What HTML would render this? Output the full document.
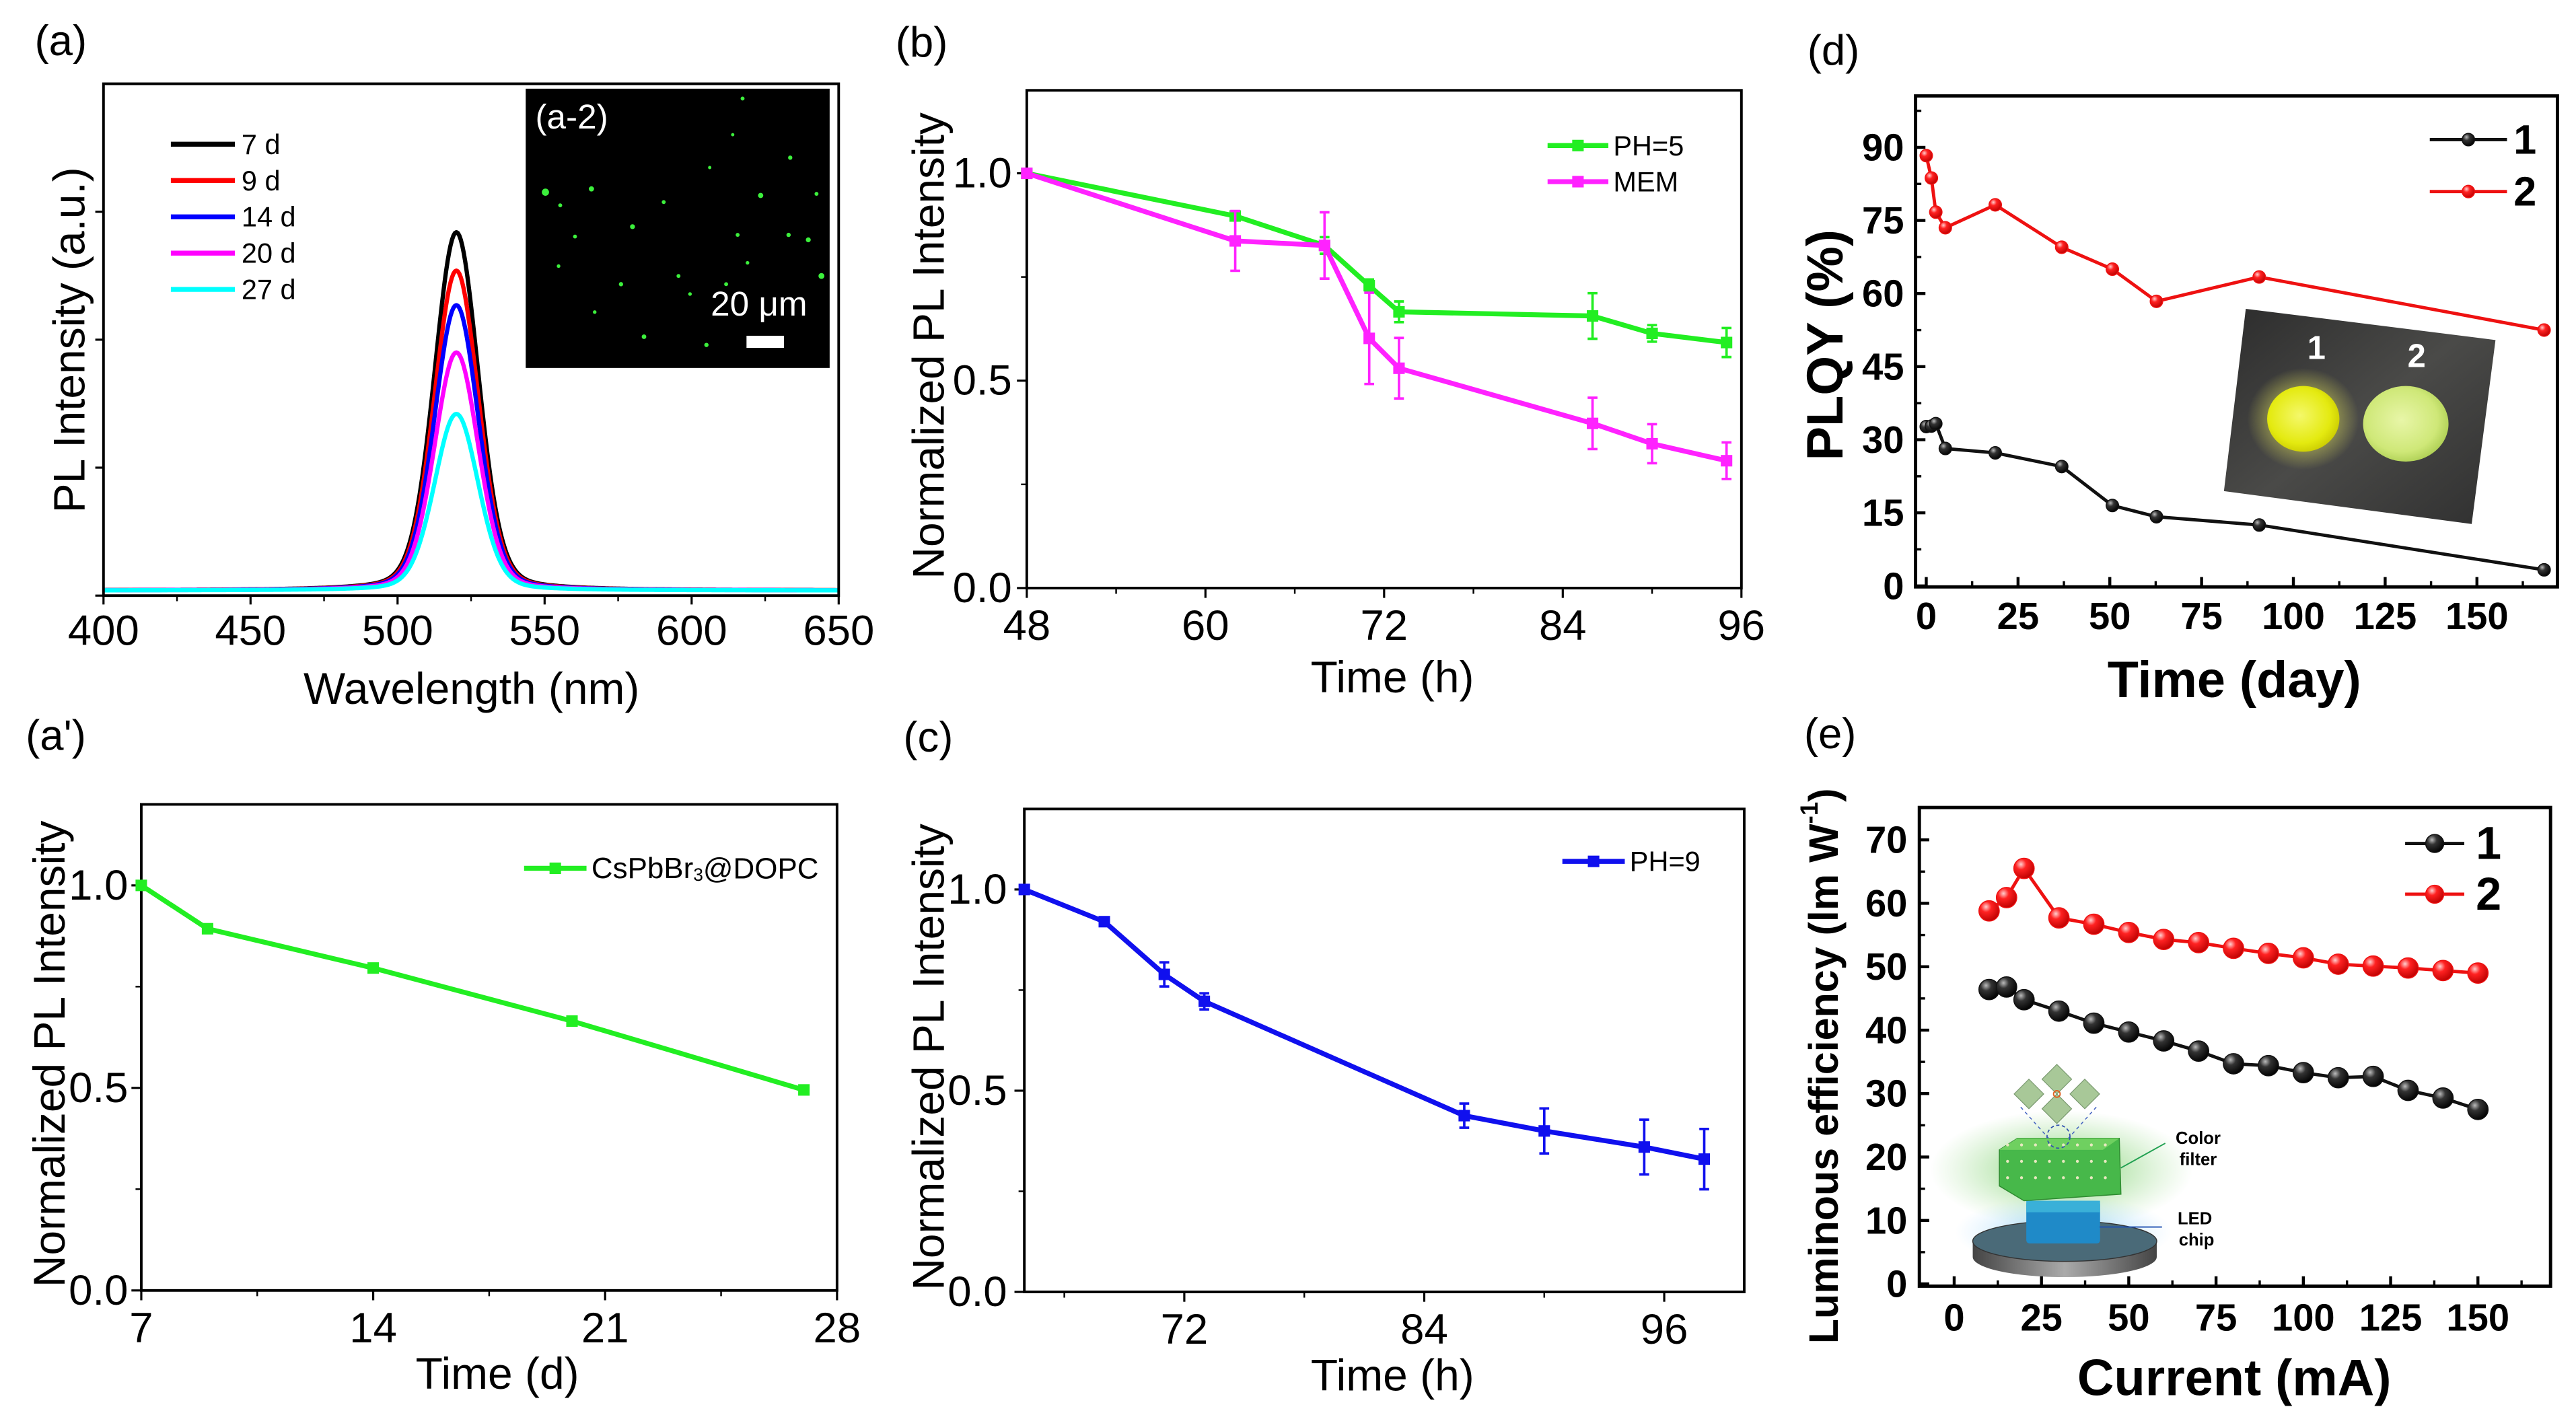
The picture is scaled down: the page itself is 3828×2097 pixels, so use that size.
<!DOCTYPE html>
<html>
<head>
<meta charset="utf-8">
<style>
html,body{margin:0;padding:0;background:#fff;}
svg{display:block;}
text{font-family:"Liberation Sans",sans-serif;}
</style>
</head>
<body>
<svg id="fig" xmlns="http://www.w3.org/2000/svg" width="3828" height="2097" viewBox="0 0 1568 859" preserveAspectRatio="none">
<defs>
<radialGradient id="gBlack" cx="0.35" cy="0.3" r="0.75"><stop offset="0" stop-color="#bbb"/><stop offset="0.35" stop-color="#333"/><stop offset="1" stop-color="#000"/></radialGradient>
<radialGradient id="gRed" cx="0.35" cy="0.3" r="0.75"><stop offset="0" stop-color="#ffd0d0"/><stop offset="0.35" stop-color="#f22"/><stop offset="1" stop-color="#b00"/></radialGradient>
<linearGradient id="gPhoto" x1="0" y1="0" x2="1" y2="1"><stop offset="0" stop-color="#2c2c2c"/><stop offset="0.5" stop-color="#4a4a48"/><stop offset="1" stop-color="#303030"/></linearGradient>
<radialGradient id="gBall1" cx="0.45" cy="0.45" r="0.6"><stop offset="0" stop-color="#f4f86a"/><stop offset="0.7" stop-color="#e4ea10"/><stop offset="1" stop-color="#c8c800"/></radialGradient>
<radialGradient id="gBall2" cx="0.45" cy="0.45" r="0.6"><stop offset="0" stop-color="#e8f6a8"/><stop offset="0.7" stop-color="#cfe878"/><stop offset="1" stop-color="#aacc50"/></radialGradient>
<radialGradient id="gYGlow" cx="0.5" cy="0.5" r="0.5"><stop offset="0.5" stop-color="#ffff60" stop-opacity="0.45"/><stop offset="1" stop-color="#ffff60" stop-opacity="0"/></radialGradient>
<radialGradient id="gGlow" cx="0.5" cy="0.5" r="0.5"><stop offset="0" stop-color="#5fc44a" stop-opacity="0.8"/><stop offset="1" stop-color="#8fd880" stop-opacity="0"/></radialGradient>
<radialGradient id="gBlueGlow" cx="0.5" cy="0.5" r="0.5"><stop offset="0" stop-color="#5ab8f0" stop-opacity="0.7"/><stop offset="1" stop-color="#a0d8ff" stop-opacity="0"/></radialGradient>
<linearGradient id="gDisk" x1="0" y1="0" x2="1" y2="0"><stop offset="0" stop-color="#444"/><stop offset="0.5" stop-color="#aaa"/><stop offset="1" stop-color="#444"/></linearGradient>
</defs>
</svg>
<script>
// ---------- DATA ----------
const specLabels = ['7 d','9 d','14 d','20 d','27 d'];
const specPeaks = [2.8, 2.5, 2.23, 1.86, 1.38];
const specCenter = [520, 520, 520, 520, 520];
const specColors = ['#000000','#ff0000','#0000ff','#ff00ff','#00ffff'];
const aTicksX = [400,450,500,550,600,650];

const bTimes = [48,62,68,71,73,86,90,95];
const bPH5 = [1,0.897,0.826,0.729,0.666,0.656,0.614,0.592];
const bPH5Err = [0,0.01,0.02,0.015,0.025,0.055,0.02,0.035];
const bMEM = [1,0.837,0.826,0.602,0.53,0.397,0.348,0.307];
const bMEMErr = [0,0.072,0.08,0.11,0.073,0.062,0.047,0.044];
const bTicksX = [48,60,72,84,96];
const normTicksY = ['0.0','0.5','1.0'];

const apDays = [7,9,14,20,27];
const apVals = [1,0.893,0.796,0.665,0.495];
const apTicksX = [7,14,21,28];

const cTimes = [64,68,71,73,86,90,95,98];
const cVals = [1,0.92,0.789,0.722,0.438,0.40,0.36,0.33];
const cErr = [0,0.01,0.03,0.02,0.03,0.056,0.068,0.075];
const cTicksX = [72,84,96];

const dDays = [0,1.4,2.6,5.2,18.8,36.9,50.7,62.7,90.7,168.3];
const dS1 = [32.7,32.8,33.3,28.2,27.3,24.5,16.5,14.2,12.5,3.3];
const dS2 = [88.3,83.7,76.7,73.5,78.2,69.5,65,58.4,63.4,52.5];
const dTicksX = [0,25,50,75,100,125,150];
const dTicksY = [0,15,30,45,60,75,90];

const eCurrent = [10,15,20,30,40,50,60,70,80,90,100,110,120,130,140,150];
const eS1 = [46.4,46.8,44.8,43.0,41.1,39.7,38.3,36.7,34.7,34.4,33.3,32.5,32.7,30.5,29.3,27.5];
const eS2 = [58.8,60.9,65.5,57.7,56.7,55.4,54.3,53.8,52.9,52.1,51.4,50.4,50.1,49.8,49.4,49.0];
const eTicksX = [0,25,50,75,100,125,150];
const eTicksY = [0,10,20,30,40,50,60,70];

// ---------- HELPERS ----------
const NS = 'http://www.w3.org/2000/svg';
const svg = document.getElementById('fig');
function mk(tag, attrs, parent) {
  const e = document.createElementNS(NS, tag);
  for (const k in attrs) e.setAttribute(k, attrs[k]);
  (parent || svg).appendChild(e);
  return e;
}
function lin(d0, d1, p0, p1) { return v => p0 + (v - d0) * (p1 - p0) / (d1 - d0); }
function txt(parent, x, y, s, size, opts) {
  opts = opts || {};
  const t = mk('text', {x: x, y: y, 'font-size': size, 'text-anchor': opts.anchor || 'middle',
    'dominant-baseline': 'central', fill: opts.fill || '#000', 'font-weight': opts.bold ? 'bold' : 'normal'}, parent);
  if (opts.rot) t.setAttribute('transform', 'rotate(-90 ' + x + ' ' + y + ')');
  t.textContent = s;
  return t;
}
function frame(g, x0, y0, x1, y1, w) {
  const r = mk('rect', {x: x0, y: y0, width: x1 - x0, height: y1 - y0, fill: 'none', stroke: '#000', 'stroke-width': w}, g);
  
  
}
function tickLine(g, x1, y1, x2, y2, w) {
  const l = mk('line', {x1: x1, y1: y1, x2: x2, y2: y2, stroke: '#000', 'stroke-width': w}, g);
  
  
}
function polyline(g, xs, ys, sx, sy, color, w) {
  const pts = xs.map((v, i) => sx(v).toFixed(2) + ',' + sy(ys[i]).toFixed(2)).join(' ');
  return mk('polyline', {points: pts, fill: 'none', stroke: color, 'stroke-width': w, 'stroke-linejoin': 'round'}, g);
}
function group(name) {
  const g = mk('g', {});
  
  
  return g;
}

// ---------- PANEL A ----------
(function () {
  const g = group('panel-a');
  const sx = lin(400, 650, 63, 510.5), sy = lin(0, 4, 362.6, 51);
  const lab = txt(g, 37, 25, '(a)', 26);
  
  
  for (let i = 0; i < specPeaks.length; i++) {
    const xs = [], ys = [];
    for (let w = 400; w <= 650; w += 0.5) {
      const d = w - specCenter[i];
      const v = specPeaks[i] * (0.8 * Math.exp(-d * d / (2 * 7.5 * 7.5)) + 0.2 / (1 + (d / 9) * (d / 9))) + 0.04;
      xs.push(w); ys.push(v);
    }
    const p = polyline(g, xs, ys, sx, sy, specColors[i], 2.6);
    
    
    const ly = 87.8 + i * 22.1;
    const ll = mk('line', {x1: 104, y1: ly, x2: 143, y2: ly, stroke: specColors[i], 'stroke-width': 3}, g);
    
    
    const lt = txt(g, 147, ly, specLabels[i], 17, {anchor: 'start'});
    
    
  }
  frame(g, 63, 51, 510.5, 362.6, 1.6);
  aTicksX.forEach(v => {
    tickLine(g, sx(v), 362.6, sx(v), 368, 1.3);
    const t = txt(g, sx(v), 384, String(v), 26);
    
    
  });
  for (let v = 425; v < 650; v += 50) tickLine(g, sx(v), 362.6, sx(v), 366, 1);
  for (let v = 0; v <= 3; v++) tickLine(g, 63, sy(v), 58, sy(v), 1.3);
  const xt = txt(g, 287, 419, 'Wavelength (nm)', 27);
  
  
  const yt = txt(g, 42, 207, 'PL Intensity (a.u.)', 27, {rot: true});
  
  
  // inset image
  const ins = mk('rect', {x: 320, y: 54, width: 185, height: 170, fill: '#000'}, g);
  
  
  const dots = [[332,117,2.2],[341,125,1.2],[350,144,1.2],[360,115,1.6],[404,123,1.2],[385,138,1.5],[378,173,1.3],[392,205,1.4],[413,168,1.2],[420,179,1.1],[430,210,1.3],[442,173,1.2],[449,143,1.2],[455,160,1.1],[463,119,1.6],[481,96,1.3],[492,146,1.5],[497,118,1.2],[500,168,1.8],[446,82,1],[452,60,1.2],[480,143,1.3],[362,190,1.1],[340,162,1.1],[432,102,1]];
  dots.forEach(d => {
    const c = mk('circle', {cx: d[0], cy: d[1], r: d[2], fill: '#3cf03c'}, g);
    
    
  });
  const il = txt(g, 348, 71, '(a-2)', 21, {fill: '#fff'});
  
  
  const sb = txt(g, 462, 185, '20 μm', 21, {fill: '#fff'});
  
  
  const sbr = mk('rect', {x: 454.4, y: 204.4, width: 22.8, height: 7.4, fill: '#fff'}, g);
  
  
})();

// generic normalized panel
function normPanel(name, label, lx, ly, box, xr, xticks, xminor, title, titleY, ytitleX, tickRightX) {
  const g = group(name);
  const sx = lin(xr[0], xr[1], box[0], box[2]), sy = lin(0, 1.2, box[3], box[1]);
  const l = txt(g, lx, ly, label, 26);
  
  
  frame(g, box[0], box[1], box[2], box[3], 1.6);
  xticks.forEach(v => {
    tickLine(g, sx(v), box[3], sx(v), box[3] + 6, 1.3);
    const t = txt(g, sx(v), box[3] + 23, String(v), 26);
    
    
  });
  xminor.forEach(v => tickLine(g, sx(v), box[3], sx(v), box[3] + 3.5, 1));
  normTicksY.forEach(s => {
    const v = parseFloat(s);
    tickLine(g, box[0], sy(v), box[0] - 6, sy(v), 1.3);
    const t = txt(g, tickRightX, sy(v), s, 26, {anchor: 'end'});
    
    
  });
  [0.25, 0.75].forEach(v => tickLine(g, box[0], sy(v), box[0] - 3.5, sy(v), 1));
  const xt = txt(g, (box[0] + box[2]) / 2 + 5, titleY, title, 27);
  
  
  const yt = txt(g, ytitleX, (box[1] + box[3]) / 2 + 4, 'Normalized PL Intensity', 27, {rot: true});
  
  
  return {g: g, sx: sx, sy: sy};
}
function errSeries(P, xs, ys, errs, color, nm) {
  const p = polyline(P.g, xs, ys, P.sx, P.sy, color, 3);
  
  
  xs.forEach((x, i) => {
    if (errs && errs[i] > 0) {
      const X = P.sx(x), y1 = P.sy(ys[i] + errs[i]), y2 = P.sy(ys[i] - errs[i]);
      const e = mk('path', {d: 'M' + X + ',' + y1 + 'V' + y2 + 'M' + (X - 3) + ',' + y1 + 'H' + (X + 3) + 'M' + (X - 3) + ',' + y2 + 'H' + (X + 3), stroke: color, 'stroke-width': 1.5, fill: 'none'}, P.g);
      
      
    }
    const m = mk('rect', {x: P.sx(x) - 3.5, y: P.sy(ys[i]) - 3.5, width: 7, height: 7, fill: color}, P.g);
    
    
  });
}
function normLegend(P, x1, x2, y, color, label, size) {
  const l = mk('line', {x1: x1, y1: y, x2: x2, y2: y, stroke: color, 'stroke-width': 3}, P.g);
  
  
  const m = mk('rect', {x: (x1 + x2) / 2 - 3.5, y: y - 3.5, width: 7, height: 7, fill: color}, P.g);
  
  
  const t = txt(P.g, x2 + 3, y, '', size, {anchor: 'start'});
  
  
  if (label === 'CsPbBr3@DOPC') {
    t.textContent = 'CsPbBr';
    const s = mk('tspan', {'font-size': size * 0.6, dy: 4}, t); s.textContent = '3';
    const r = mk('tspan', {dy: -4}, t); r.textContent = '@DOPC';
  } else t.textContent = label;
}

// ---------- PANEL B ----------
(function () {
  const P = normPanel('panel-b', '(b)', 561, 26, [625, 55, 1060, 358], [48, 96], bTicksX, [54, 66, 78, 90], 'Time (h)', 412, 565, 616);
  errSeries(P, bTimes, bPH5, bPH5Err, '#22ee22', 'ph5');
  errSeries(P, bTimes, bMEM, bMEMErr, '#ff22ff', 'mem');
  normLegend(P, 942, 979, 88.6, '#22ee22', 'PH=5', 17);
  normLegend(P, 942, 979, 110.6, '#ff22ff', 'MEM', 17);
})();

// ---------- PANEL A' ----------
(function () {
  const P = normPanel('panel-a-prime', "(a')", 34, 448, [86, 489.7, 509.5, 785.6], [7, 28], apTicksX, [10.5, 17.5, 24.5], 'Time (d)', 836, 30, 78);
  errSeries(P, apDays, apVals, null, '#22ee22', 'dopc');
  normLegend(P, 319, 357, 528.6, '#22ee22', 'CsPbBr3@DOPC', 18);
})();

// ---------- PANEL C ----------
(function () {
  const P = normPanel('panel-c', '(c)', 565, 449, [623.5, 492.5, 1061.7, 786.5], [64, 100], cTicksX, [66, 78, 90], 'Time (h)', 837, 565, 613);
  errSeries(P, cTimes, cVals, cErr, '#1010ee', 'ph9');
  normLegend(P, 951, 989, 524.4, '#1010ee', 'PH=9', 17);
})();

// sphere series
function sphereSeries(g, xs, ys, sx, sy, color, grad, r, nm) {
  const p = polyline(g, xs, ys, sx, sy, color, 2);
  
  
  xs.forEach((x, i) => {
    const c = mk('circle', {cx: sx(x), cy: sy(ys[i]), r: r, fill: grad, stroke: color, 'stroke-width': 0.6}, g);
    
    
  });
}
function boldAxes(g, box, sx, sy, xticks, xminor, yticks, yminor, tickRightX, xlabY) {
  frame(g, box[0], box[1], box[2], box[3], 2);
  xticks.forEach(v => {
    tickLine(g, sx(v), box[3], sx(v), box[3] - 6, 1.8);
    const t = txt(g, sx(v), xlabY, String(v), 23, {bold: true});
    
    
  });
  xminor.forEach(v => tickLine(g, sx(v), box[3], sx(v), box[3] - 3.5, 1.4));
  yticks.forEach(v => {
    tickLine(g, box[0], sy(v), box[0] + 6, sy(v), 1.8);
    const t = txt(g, tickRightX, sy(v), String(v), 23, {anchor: 'end', bold: true});
    
    
  });
  yminor.forEach(v => tickLine(g, box[0], sy(v), box[0] + 3.5, sy(v), 1.4));
}
function sphereLegend(g, x1, x2, y, color, grad, r, label, tx, size) {
  const l = mk('line', {x1: x1, y1: y, x2: x2, y2: y, stroke: color, 'stroke-width': 2}, g);
  
  
  const c = mk('circle', {cx: (x1 + x2) / 2, cy: y, r: r, fill: grad, stroke: color, 'stroke-width': 0.6}, g);
  
  
  const t = txt(g, tx, y, label, size, {anchor: 'start', bold: true});
  
  
}

// ---------- PANEL D ----------
(function () {
  const g = group('panel-d');
  const box = [1166, 58.4, 1556.7, 357.3];
  const sx = lin(0, 150, 1172.5, 1507.7), sy = lin(0, 90, 356.7, 89.7);
  const l = txt(g, 1116, 31, '(d)', 26);
  
  
  // photo inset
  const ph = mk('polygon', {points: '1367,188 1519,207 1504.5,319 1353.7,299', fill: 'url(#gPhoto)'}, g);
  
  
  const glow = mk('ellipse', {cx: 1402, cy: 255, rx: 34, ry: 31, fill: 'url(#gYGlow)'}, g);
  
  
  const b1 = mk('ellipse', {cx: 1402, cy: 255, rx: 22, ry: 20, fill: 'url(#gBall1)'}, g);
  
  
  const b2 = mk('ellipse', {cx: 1464.4, cy: 258, rx: 26, ry: 23, fill: 'url(#gBall2)'}, g);
  
  
  const t1 = txt(g, 1410, 212, '1', 20, {fill: '#fff', bold: true});
  
  
  const t2 = txt(g, 1471, 217, '2', 20, {fill: '#fff', bold: true});
  
  
  sphereSeries(g, dDays, dS2, sx, sy, '#ee1111', 'url(#gRed)', 3.8, 'series-2');
  sphereSeries(g, dDays, dS1, sx, sy, '#111111', 'url(#gBlack)', 3.8, 'series-1');
  boldAxes(g, box, sx, sy, dTicksX, [12.5, 37.5, 62.5, 87.5, 112.5, 137.5, 162.5], dTicksY, [7.5, 22.5, 37.5, 52.5, 67.5, 82.5, 97.5], 1159, 375);
  sphereLegend(g, 1479, 1526, 85, '#111', 'url(#gBlack)', 3.8, '1', 1530, 25);
  sphereLegend(g, 1479, 1526, 116.6, '#ee1111', 'url(#gRed)', 3.8, '2', 1530, 25);
  const xt = txt(g, 1360, 414, 'Time (day)', 31, {bold: true});
  
  
  const yt = txt(g, 1111, 210, 'PLQY (%)', 31, {bold: true, rot: true});
  
  
})();

// ---------- PANEL E ----------
(function () {
  const g = group('panel-e');
  const box = [1168.3, 491.6, 1552.5, 783];
  const sx = lin(0, 150, 1189.5, 1508.3), sy = lin(0, 70, 781.6, 511.3);
  const l = txt(g, 1114, 447, '(e)', 26);
  
  
  // LED illustration
  const il = mk('g', {}, g);
  
  
  mk('ellipse', {cx: 1255, cy: 712, rx: 80, ry: 36, fill: 'url(#gGlow)'}, il);
  mk('ellipse', {cx: 1256, cy: 750, rx: 66, ry: 22, fill: 'url(#gBlueGlow)'}, il);
  mk('path', {d: 'M1200.8,755.6 v9.6 a56,12.3 0 0 0 112,0 v-9.6 z', fill: 'url(#gDisk)'}, il);
  mk('ellipse', {cx: 1256.8, cy: 755.6, rx: 56, ry: 12.3, fill: '#4a6a78', stroke: '#333', 'stroke-width': 0.6}, il);
  mk('rect', {x: 1233.4, y: 731, width: 44.9, height: 26, rx: 2, fill: '#1f8ac8'}, il);
  mk('rect', {x: 1233.4, y: 731, width: 44.9, height: 7, fill: '#3ab0d8'}, il);
  mk('path', {d: 'M1217,700 L1228,693 L1290,693 L1291,727 L1232,731 L1217,722 Z', fill: '#47b84a', stroke: '#2e8a30', 'stroke-width': 0.6}, il);
  mk('path', {d: 'M1217,700 L1228,693 L1290,693 L1280,700 Z', fill: '#6fd060'}, il);
  for (let i = 0; i < 24; i++) {
    mk('circle', {cx: 1222 + (i % 8) * 8.5, cy: 697 + Math.floor(i / 8) * 10, r: 0.9, fill: '#e8e8c0'}, il);
  }
  mk('path', {d: 'M1230,674 L1247,693 M1276,674 L1259,693', stroke: '#4060c0', 'stroke-width': 0.6, 'stroke-dasharray': '2,2', fill: 'none'}, il);
  mk('circle', {cx: 1253, cy: 692, r: 7, fill: 'none', stroke: '#3050b0', 'stroke-width': 0.7, 'stroke-dasharray': '2,1.5'}, il);
  mk('path', {d: 'M1252,648 l9,9 l-9,9 l-9,-9 z M1252,666 l9,9 l-9,9 l-9,-9 z M1235,657 l9,9 l-9,9 l-9,-9 z M1269,657 l9,9 l-9,9 l-9,-9 z', fill: '#a8c898', stroke: '#7a9a70', 'stroke-width': 0.5}, il);
  mk('circle', {cx: 1252, cy: 666, r: 2, fill: 'none', stroke: '#e06020', 'stroke-width': 0.8}, il);
  mk('line', {x1: 1291, y1: 711, x2: 1318, y2: 696, stroke: '#20a050', 'stroke-width': 0.8}, il);
  mk('line', {x1: 1278, y1: 747, x2: 1316, y2: 747, stroke: '#2050b0', 'stroke-width': 0.8}, il);
  const cf1 = txt(g, 1338, 693, 'Color', 10.5, {bold: true});
  
  
  const cf2 = txt(g, 1338, 706, 'filter', 10.5, {bold: true});
  
  
  const lc1 = txt(g, 1336, 742, 'LED', 10.5, {bold: true});
  
  
  const lc2 = txt(g, 1337, 755, 'chip', 10.5, {bold: true});
  
  

  sphereSeries(g, eCurrent, eS2, sx, sy, '#ee1111', 'url(#gRed)', 6.2, 'series-2');
  sphereSeries(g, eCurrent, eS1, sx, sy, '#111111', 'url(#gBlack)', 6.2, 'series-1');
  boldAxes(g, box, sx, sy, eTicksX, [12.5, 37.5, 62.5, 87.5, 112.5, 137.5, 162.5], eTicksY, [5, 15, 25, 35, 45, 55, 65], 1161, 802);
  sphereLegend(g, 1464, 1500, 513.5, '#111', 'url(#gBlack)', 5.5, '1', 1507, 28);
  sphereLegend(g, 1464, 1500, 544.4, '#ee1111', 'url(#gRed)', 5.5, '2', 1507, 28);
  const xt = txt(g, 1360, 839, 'Current (mA)', 31, {bold: true});
  
  
  const yt = txt(g, 1110, 649, 'Luminous efficiency (lm W', 25, {bold: true, rot: true});
  
  
  const sup = mk('tspan', {'font-size': 15, dy: -9}, yt); sup.textContent = '-1';
  const cl = mk('tspan', {dy: 9}, yt); cl.textContent = ')';
})();
</script>
</body>
</html>
